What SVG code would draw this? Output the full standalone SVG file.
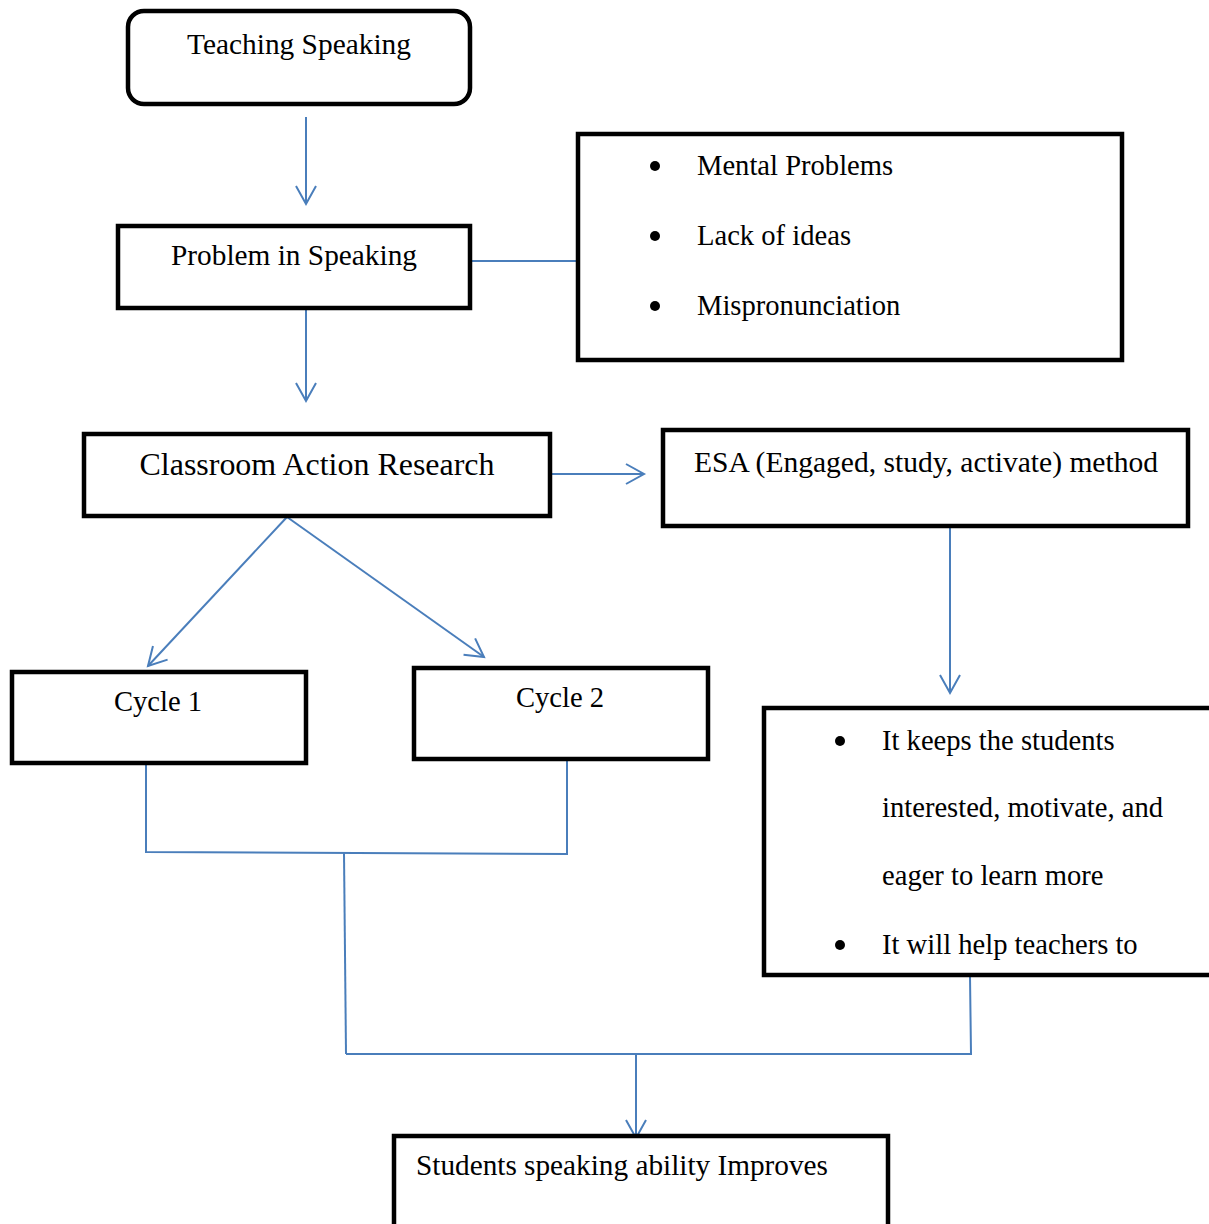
<svg xmlns="http://www.w3.org/2000/svg" width="1209" height="1224" viewBox="0 0 1209 1224">
<defs>
<style>
.box{fill:#fff;stroke:#000;stroke-width:4.5}
.t{font-family:"Liberation Serif","Times New Roman",serif;font-size:28.6px;fill:#000}
.c{fill:none;stroke:#4a7ebb;stroke-width:2}
.b{fill:#000}
</style>
<marker id="ah" markerUnits="userSpaceOnUse" markerWidth="24" markerHeight="24" viewBox="-20 -12 24 24" refX="0" refY="0" orient="auto">
<path d="M-18,-10 L0,0 L-18,10" fill="none" stroke="#4a7ebb" stroke-width="2"/>
</marker>
</defs>
<rect width="1209" height="1224" fill="#fff"/>
<g id="connectors">
<line class="c" x1="306" y1="117" x2="306" y2="204" marker-end="url(#ah)"/>
<line class="c" x1="306" y1="309" x2="306" y2="401" marker-end="url(#ah)"/>
<line class="c" x1="470" y1="261" x2="578" y2="261"/>
<line class="c" x1="552" y1="474" x2="644" y2="474" marker-end="url(#ah)"/>
<line class="c" x1="287" y1="517" x2="148" y2="666" marker-end="url(#ah)"/>
<line class="c" x1="287" y1="517" x2="484" y2="657" marker-end="url(#ah)"/>
<line class="c" x1="950" y1="527" x2="950" y2="693" marker-end="url(#ah)"/>
<polyline class="c" points="146,763 146,852 567,854 567,760"/>
<line class="c" x1="344" y1="853" x2="346" y2="1054"/>
<polyline class="c" points="970,976 971,1054 346,1054"/>
<line class="c" x1="636" y1="1054" x2="636" y2="1138" marker-end="url(#ah)"/>
</g>
<g id="teaching">
<rect class="box" x="128" y="11" width="342" height="93" rx="16"/>
<text class="t" x="299" y="54" text-anchor="middle" textLength="224" lengthAdjust="spacingAndGlyphs">Teaching Speaking</text>
</g>
<g id="problem">
<rect class="box" x="118" y="226" width="352" height="82"/>
<text class="t" x="294" y="265" text-anchor="middle" textLength="246" lengthAdjust="spacingAndGlyphs">Problem in Speaking</text>
</g>
<g id="problems-list">
<rect class="box" x="578" y="134" width="544" height="226"/>
<circle class="b" cx="655" cy="166" r="5"/>
<circle class="b" cx="655" cy="236" r="5"/>
<circle class="b" cx="655" cy="306" r="5"/>
<text class="t" x="697" y="175">Mental Problems</text>
<text class="t" x="697" y="245">Lack of ideas</text>
<text class="t" x="697" y="315">Mispronunciation</text>
</g>
<g id="car">
<rect class="box" x="84" y="434" width="466" height="82"/>
<text class="t" x="317" y="475" text-anchor="middle" style="font-size:31px" textLength="355" lengthAdjust="spacingAndGlyphs">Classroom Action Research</text>
</g>
<g id="esa">
<rect class="box" x="663" y="430" width="525" height="96"/>
<text class="t" x="694" y="472" textLength="464" lengthAdjust="spacingAndGlyphs">ESA (Engaged, study, activate) method</text>
</g>
<g id="cycle1">
<rect class="box" x="12" y="672" width="294" height="91"/>
<text class="t" x="158" y="711" text-anchor="middle">Cycle 1</text>
</g>
<g id="cycle2">
<rect class="box" x="414" y="668" width="294" height="91"/>
<text class="t" x="560" y="707" text-anchor="middle">Cycle 2</text>
</g>
<g id="benefits">
<rect class="box" x="764" y="708" width="460" height="267"/>
<circle class="b" cx="840" cy="741" r="5"/>
<circle class="b" cx="840" cy="945" r="5"/>
<text class="t" x="882" y="750">It keeps the students</text>
<text class="t" x="882" y="817">interested, motivate, and</text>
<text class="t" x="882" y="885">eager to learn more</text>
<text class="t" x="882" y="954">It will help teachers to</text>
</g>
<g id="result">
<rect class="box" x="394" y="1136" width="494" height="100"/>
<text class="t" x="416" y="1175" textLength="412" lengthAdjust="spacingAndGlyphs">Students speaking ability Improves</text>
</g>
</svg>
